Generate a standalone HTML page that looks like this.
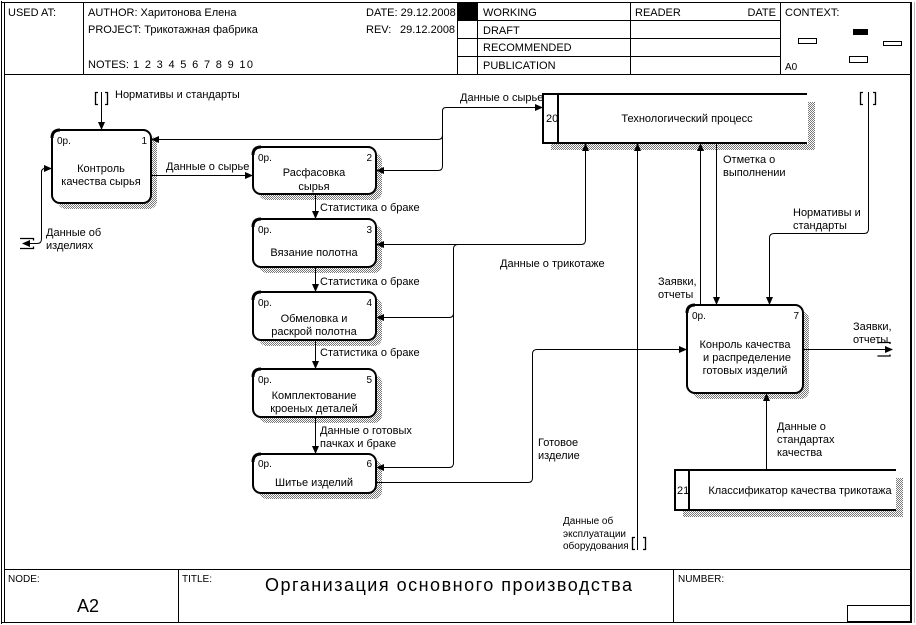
<!DOCTYPE html>
<html><head><meta charset="utf-8">
<style>
html,body{margin:0;padding:0;background:#fff;}
svg{display:block;}
text{font-family:"Liberation Sans","Noto Sans CJK SC",sans-serif;font-size:11px;fill:#000;}
.s{font-size:10px;}
</style></head><body>
<svg width="916" height="625" viewBox="0 0 916 625" xmlns="http://www.w3.org/2000/svg">
<defs>
<pattern id="h" width="2" height="2" patternUnits="userSpaceOnUse">
<rect x="0" y="0" width="1" height="1" fill="#777"/>
<rect x="1" y="1" width="1" height="1" fill="#777"/>
</pattern>
</defs>
<rect width="916" height="625" fill="#fff"/>

<!-- frame -->
<g stroke="#000" fill="none" stroke-width="1">
<line x1="1.5" y1="1" x2="1.5" y2="624"/>
<line x1="4.5" y1="2" x2="4.5" y2="622"/>
<line x1="1" y1="2.5" x2="912" y2="2.5"/>
<line x1="1" y1="622.5" x2="912" y2="622.5"/>
<line x1="911" y1="2" x2="911" y2="623" stroke-width="2"/>
<line x1="914.5" y1="2" x2="914.5" y2="623" stroke="#bbb"/>
<!-- header -->
<line x1="4" y1="74.5" x2="911" y2="74.5"/>
<line x1="83.5" y1="2" x2="83.5" y2="74"/>
<line x1="457.5" y1="2" x2="457.5" y2="74"/>
<line x1="477.5" y1="2" x2="477.5" y2="74"/>
<line x1="630.5" y1="2" x2="630.5" y2="74"/>
<line x1="780.5" y1="2" x2="780.5" y2="74"/>
<line x1="457" y1="20.5" x2="780" y2="20.5"/>
<line x1="457" y1="38.5" x2="780" y2="38.5"/>
<line x1="457" y1="56.5" x2="780" y2="56.5"/>
<!-- footer -->
<line x1="4" y1="569.5" x2="911" y2="569.5"/>
<line x1="178.5" y1="569" x2="178.5" y2="622"/>
<line x1="673.5" y1="569" x2="673.5" y2="622"/>
<rect x="847.5" y="605.5" width="63" height="16"/>
<!-- context mini -->
<rect x="798.5" y="38.5" width="18" height="5"/>
<rect x="883.5" y="41.5" width="18" height="4"/>
<rect x="849.5" y="56.5" width="18" height="6"/>
</g>
<rect x="457" y="3" width="20" height="17" fill="#000"/>
<rect x="853" y="29" width="15" height="6" fill="#000"/>

<!-- header text -->
<text x="8" y="16">USED AT:</text>
<text x="88" y="16">AUTHOR:  Харитонова Елена</text>
<text x="88" y="33">PROJECT:  Трикотажная фабрика</text>
<text x="88" y="68">NOTES:</text>
<text x="133" y="68" textLength="120" lengthAdjust="spacing">1  2  3  4  5  6  7  8  9  10</text>
<text x="366" y="16">DATE:  29.12.2008</text>
<text x="366" y="33">REV:</text>
<text x="400" y="33">29.12.2008</text>
<text x="483" y="16">WORKING</text>
<text x="483" y="34">DRAFT</text>
<text x="483" y="51">RECOMMENDED</text>
<text x="483" y="69">PUBLICATION</text>
<text x="635" y="16">READER</text>
<text x="776" y="16" text-anchor="end">DATE</text>
<text x="785" y="16">CONTEXT:</text>
<text x="785" y="70" class="s">A0</text>

<!-- footer text -->
<text x="8" y="582" class="s">NODE:</text>
<text x="182" y="582" class="s">TITLE:</text>
<text x="678" y="582" class="s">NUMBER:</text>
<text x="77" y="612" style="font-size:18px">A2</text>
<text x="265" y="591" style="font-size:18px" textLength="367" lengthAdjust="spacing">Организация  основного  производства</text>

<!-- box shadows -->
<g fill="url(#h)">
<rect x="58" y="136" width="99" height="73" rx="8"/>
<rect x="259" y="153" width="123" height="47" rx="8"/>
<rect x="259" y="225" width="123" height="48" rx="8"/>
<rect x="259" y="298" width="123" height="48" rx="8"/>
<rect x="259" y="375" width="123" height="48" rx="8"/>
<rect x="259" y="460" width="123" height="39" rx="8"/>
<rect x="693" y="311" width="116" height="88" rx="8"/>
<rect x="808" y="102" width="7" height="48"/>
<rect x="551" y="144" width="264" height="6"/>
<rect x="896" y="478" width="7" height="39"/>
<rect x="683" y="511" width="220" height="6"/>
</g>

<!-- boxes -->
<g fill="#fff" stroke="#000" stroke-width="2">
<rect x="52" y="130" width="99" height="73" rx="8"/>
<rect x="253" y="147" width="123" height="47" rx="8"/>
<rect x="253" y="219" width="123" height="48" rx="8"/>
<rect x="253" y="292" width="123" height="48" rx="8"/>
<rect x="253" y="369" width="123" height="48" rx="8"/>
<rect x="253" y="454" width="123" height="39" rx="8"/>
<rect x="687" y="305" width="116" height="88" rx="8"/>
</g>
<g fill="none" stroke="#000" stroke-width="3">
<path d="M52,138 Q52,130 60,130"/>
<path d="M253,155 Q253,147 261,147"/>
<path d="M253,227 Q253,219 261,219"/>
<path d="M253,300 Q253,292 261,292"/>
<path d="M253,377 Q253,369 261,369"/>
<path d="M253,462 Q253,454 261,454"/>
<path d="M687,313 Q687,305 695,305"/>
</g>

<!-- data stores -->
<rect x="543" y="94" width="264" height="49" fill="#fff"/>
<rect x="675" y="470" width="221" height="40" fill="#fff"/>
<g stroke="#000" stroke-width="2" fill="none">
<line x1="542" y1="94" x2="807" y2="94"/>
<line x1="542" y1="143" x2="807" y2="143"/>
<line x1="543" y1="94" x2="543" y2="143"/>
<line x1="558" y1="94" x2="558" y2="143"/>
<line x1="674" y1="470" x2="896" y2="470"/>
<line x1="674" y1="510" x2="896" y2="510"/>
<line x1="675" y1="470" x2="675" y2="510"/>
<line x1="689" y1="470" x2="689" y2="510"/>
</g>
<text x="546" y="122">20</text>
<text x="687" y="122" text-anchor="middle">Технологический процесс</text>
<text x="677" y="494">21</text>
<text x="800" y="494" text-anchor="middle">Классификатор качества трикотажа</text>

<!-- box labels -->
<g class="s">
<text x="57" y="144" class="s">0р.</text><text x="147" y="144" class="s" text-anchor="end">1</text>
<text x="258" y="161" class="s">0р.</text><text x="372" y="161" class="s" text-anchor="end">2</text>
<text x="258" y="233" class="s">0р.</text><text x="372" y="233" class="s" text-anchor="end">3</text>
<text x="258" y="306" class="s">0р.</text><text x="372" y="306" class="s" text-anchor="end">4</text>
<text x="258" y="383" class="s">0р.</text><text x="372" y="383" class="s" text-anchor="end">5</text>
<text x="258" y="467" class="s">0р.</text><text x="372" y="467" class="s" text-anchor="end">6</text>
<text x="692" y="319" class="s">0р.</text><text x="799" y="319" class="s" text-anchor="end">7</text>
</g>
<g text-anchor="middle">
<text x="101" y="172">Контроль</text>
<text x="101" y="185">качества сырья</text>
<text x="314" y="176">Расфасовка</text>
<text x="314" y="190">сырья</text>
<text x="314" y="256">Вязание полотна</text>
<text x="314" y="322">Обмеловка и</text>
<text x="314" y="335">раскрой полотна</text>
<text x="314" y="399">Комплектование</text>
<text x="314" y="412">кроеных деталей</text>
<text x="314" y="486">Шитье изделий</text>
<text x="745" y="348">Конроль качества</text>
<text x="747" y="361">и распределение</text>
<text x="745" y="374">готовых изделий</text>
</g>

<!-- connectors -->
<g fill="none" stroke="#000" stroke-width="1">
<path d="M101.5,92 V123"/>
<path d="M45,168.5 Q41.5,168.5 41.5,172 V239 Q41.5,243.5 37,243.5 H29"/>
<path d="M151,175.5 H246"/>
<path d="M442.5,135 V111 Q442.5,107.5 446,107.5 H536"/>
<path d="M442.5,135 Q442.5,139.5 438,139.5 H158"/>
<path d="M442.5,135 V166 Q442.5,170.5 438,170.5 H383"/>
<path d="M315.5,194 V212"/>
<path d="M315.5,267 V285"/>
<path d="M315.5,340 V362"/>
<path d="M315.5,417 V447"/>
<path d="M585.5,150 V240 Q585.5,244.5 581,244.5 H383"/>
<path d="M458,244.5 Q453.5,244.5 453.5,249 V463 Q453.5,467.5 449,467.5 H383"/>
<path d="M453.5,313 Q453.5,317.5 449,317.5 H383"/>
<path d="M376,482.5 H528 Q532.5,482.5 532.5,478 V354 Q532.5,349.5 537,349.5 H680"/>
<path d="M637.5,550 V150"/>
<path d="M700.5,305 V150"/>
<path d="M716.5,143 V298"/>
<path d="M868.5,92 V229 Q868.5,233.5 864,233.5 H774 Q769.5,233.5 769.5,238 V298"/>
<path d="M803,349.5 H886"/>
<path d="M766.5,470 V400"/>
</g>
<!-- tunnel brackets -->
<g fill="none" stroke="#000" stroke-width="1.3">
<path d="M98,92.5 H95.5 V104.5 H98"/>
<path d="M105,92.5 H107.5 V104.5 H105"/>
<path d="M863,92.5 H860.5 V104.5 H863"/>
<path d="M873,92.5 H875.5 V104.5 H873"/>
<path d="M635,537.5 H632.5 V549.5 H635"/>
<path d="M643,537.5 H645.5 V549.5 H643"/>
<path d="M20,238.5 H33.5 V240.5"/>
<path d="M20,248.5 H33.5 V246.5"/>
<path d="M878,343.5 V342.5 H890 V344"/>
<path d="M878,355.5 V356 H890 V354.5"/>
</g>
<!-- arrowheads -->
<g fill="#000">
<polygon points="101.5,130 98,122 105,122"/>
<polygon points="52,168.5 44,165 44,172"/>
<polygon points="22,243.5 30,240 30,247"/>
<polygon points="253,175.5 245,172 245,179"/>
<polygon points="543,107.5 535,104 535,111"/>
<polygon points="151,139.5 159,136 159,143"/>
<polygon points="376,170.5 384,167 384,174"/>
<polygon points="315.5,219 312,211 319,211"/>
<polygon points="315.5,292 312,284 319,284"/>
<polygon points="315.5,369 312,361 319,361"/>
<polygon points="315.5,454 312,446 319,446"/>
<polygon points="585.5,143 582,151 589,151"/>
<polygon points="376,244.5 384,241 384,248"/>
<polygon points="376,317.5 384,314 384,321"/>
<polygon points="376,467.5 384,464 384,471"/>
<polygon points="687,349.5 679,346 679,353"/>
<polygon points="637.5,143 634,151 641,151"/>
<polygon points="700.5,143 697,151 704,151"/>
<polygon points="716.5,305 713,297 720,297"/>
<polygon points="769.5,305 766,297 773,297"/>
<polygon points="893,349.5 885,346 885,353"/>
<polygon points="766.5,393 763,401 770,401"/>
</g>

<!-- connector labels -->
<text x="115" y="98">Нормативы и стандарты</text>
<text x="46" y="236">Данные об</text>
<text x="46" y="249">изделиях</text>
<text x="166" y="170">Данные о сырье</text>
<text x="460" y="101">Данные о сырье</text>
<text x="320" y="211">Статистика о браке</text>
<text x="320" y="285">Статистика о браке</text>
<text x="320" y="356">Статистика о браке</text>
<text x="320" y="434">Данные о готовых</text>
<text x="320" y="447">пачках и браке</text>
<text x="500" y="267">Данные о трикотаже</text>
<text x="538" y="446">Готовое</text>
<text x="538" y="459">изделие</text>
<text x="563" y="524" class="s">Данные об</text>
<text x="563" y="537" class="s">эксплуатации</text>
<text x="563" y="549" class="s">оборудования</text>
<text x="658" y="285">Заявки,</text>
<text x="658" y="298">отчеты</text>
<text x="723" y="163">Отметка о</text>
<text x="723" y="176">выполнении</text>
<text x="793" y="216">Нормативы и</text>
<text x="793" y="229">стандарты</text>
<text x="853" y="330">Заявки,</text>
<text x="853" y="343">отчеты</text>
<text x="777" y="430">Данные о</text>
<text x="777" y="443">стандартах</text>
<text x="777" y="456">качества</text>
</svg>
</body></html>
